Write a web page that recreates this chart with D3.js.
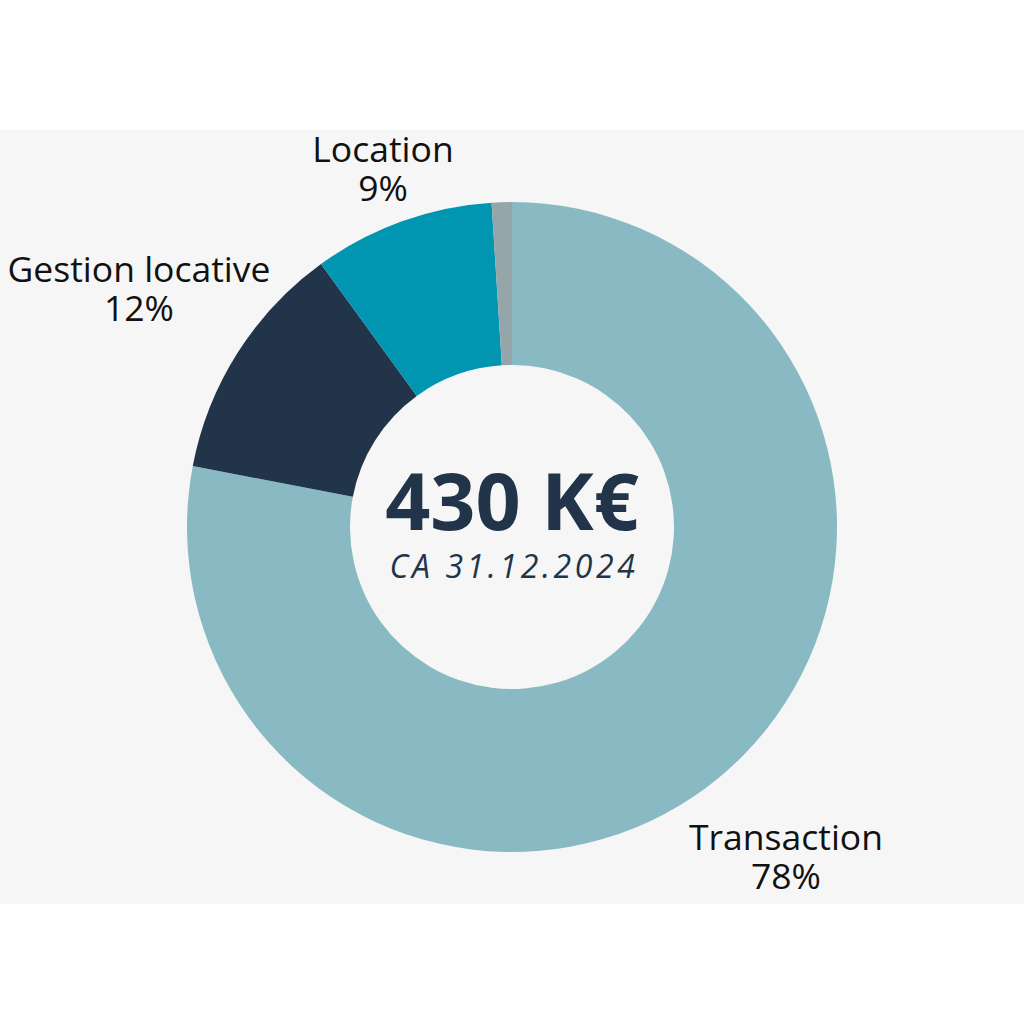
<!DOCTYPE html>
<html>
<head>
<meta charset="utf-8">
<script src="https://cdn.jsdelivr.net/npm/d3@7/dist/d3.min.js"></script>
<style>
  html, body { margin: 0; padding: 0; background: #ffffff; }
  svg { display: block; }
</style>
</head>
<body>
<svg id="chart" width="1024" height="1024"></svg>
<script>
const categories = ["Transaction", "Gestion locative", "Location", "Autre"];
const values = [78, 12, 9, 1];
const colors = ["#89b9c2", "#223449", "#0096b1", "#95a6aa"];
const labelLines = [["Transaction", "78%"], ["Gestion locative", "12%"], ["Location", "9%"], null];
const centerTitle = "430 K€";
const centerSubtitle = "CA 31.12.2024";

const svg = d3.select("#chart");
const W = 1024;

svg.append("rect")
  .attr("x", 0).attr("y", 130)
  .attr("width", W).attr("height", 774)
  .attr("fill", "#f6f6f6");

const cx = 512, cy = 527, rOuter = 325, rInner = 162;
const g = svg.append("g").attr("transform", `translate(${cx},${cy})`);

const data = categories.map((c, i) => ({ name: c, value: values[i], color: colors[i], lines: labelLines[i] }));

const pie = d3.pie().value(d => d.value).sort(null);
const arc = d3.arc().innerRadius(rInner).outerRadius(rOuter);
const arcs = pie(data);

g.selectAll("path.slice")
  .data(arcs)
  .join("path")
  .attr("class", "slice")
  .attr("d", arc)
  .attr("fill", d => d.data.color);

const labelPos = { "Transaction": [786, 850], "Gestion locative": [139, 282], "Location": [383, 162] };

const labels = svg.append("g")
  .attr("font-family", "'Open Sans', sans-serif")
  .attr("font-size", 35.5)
  .attr("fill", "#111111")
  .attr("text-anchor", "middle");

data.filter(d => d.lines).forEach(d => {
  const [x, y] = labelPos[d.name];
  const t = labels.append("text").attr("x", x).attr("y", y);
  d.lines.forEach((ln, i) => {
    t.append("tspan").attr("x", x).attr("dy", i === 0 ? 0 : 39).text(ln);
  });
});

svg.append("text")
  .attr("x", cx).attr("y", 530)
  .attr("text-anchor", "middle")
  .attr("font-family", "'Open Sans', sans-serif")
  .attr("font-weight", 700)
  .attr("font-size", 79)
  .attr("fill", "#223449")
  .text(centerTitle);

svg.append("text")
  .attr("x", cx + 2).attr("y", 578)
  .attr("text-anchor", "middle")
  .attr("font-family", "'Open Sans', sans-serif")
  .attr("font-style", "italic")
  .attr("font-size", 32)
  .attr("letter-spacing", 3.6)
  .attr("fill", "#223449")
  .text(centerSubtitle);
</script>
</body>
</html>
